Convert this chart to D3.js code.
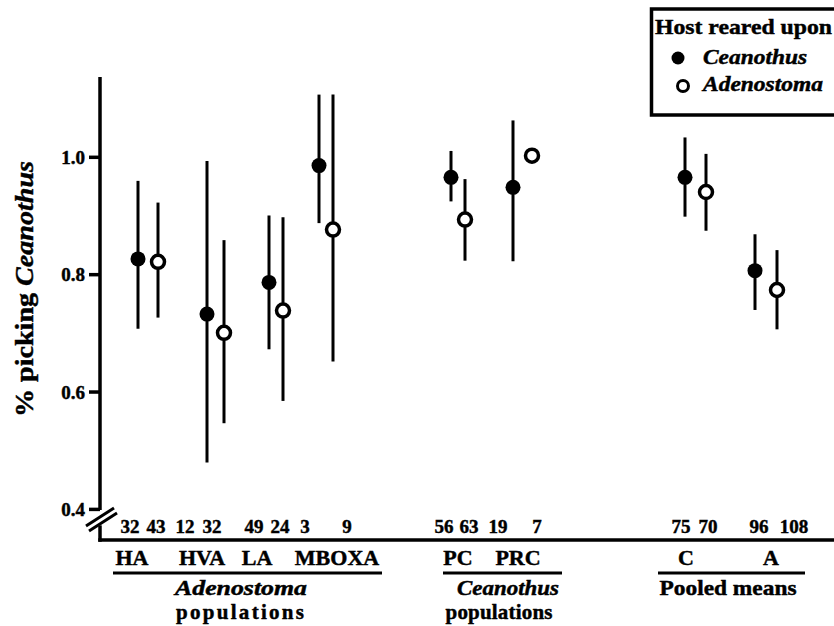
<!DOCTYPE html>
<html><head><meta charset="utf-8">
<script src="https://cdn.jsdelivr.net/npm/d3@7"></script>
<style>
html,body{margin:0;padding:0;background:#fff;}
text{font-family:"Liberation Serif","Times New Roman",serif;font-weight:bold;fill:#000;stroke:#000;stroke-width:0.45px;}
</style></head>
<body>
<svg id="chart" width="834" height="626"></svg>
<script>
// ---- data ----
const categories = ["HA","HVA","LA","MBOXA","PC","PRC","C","A"];
const groups = [
  {name:"Adenostoma", italic:true, line2:"populations", members:["HA","HVA","LA","MBOXA"]},
  {name:"Ceanothus", italic:true, line2:"populations", members:["PC","PRC"]},
  {name:"Pooled means", italic:false, line2:"", members:["C","A"]}
];
// reared on Ceanothus (filled)
const ceanothusMean = [0.826,0.732,0.786,0.985,0.965,0.948,0.965,0.806];
const ceanothusLow  = [0.707,0.479,0.672,0.887,0.924,0.822,0.898,0.739];
const ceanothusHigh = [0.959,0.993,0.900,1.106,1.010,1.062,1.033,0.868];
const ceanothusN    = [32,12,49,3,56,19,75,96];
// reared on Adenostoma (open)
const adenostomaMean = [0.821,0.700,0.738,0.876,0.893,1.002,0.940,0.773];
const adenostomaLow  = [0.726,0.546,0.584,0.651,0.823,null,0.874,0.706];
const adenostomaHigh = [0.922,0.858,0.897,1.106,0.962,null,1.005,0.841];
const adenostomaN    = [43,32,24,9,63,7,70,108];
const yTicks = [0.4,0.6,0.8,1.0];

// ---- layout ----
const svg = d3.select("#chart");
const y = d3.scaleLinear().domain([0.347,1.136]).range([540,77]);
const xFilled = d3.scaleOrdinal().domain(categories).range([138,207,269,319,451,513,685,755]);
const xOpen   = d3.scaleOrdinal().domain(categories).range([158,224,283,333,465,532,706,777]);
const xNA = d3.scaleOrdinal().domain(categories).range([130,185,254,305,444,498,681,759]);
const xNB = d3.scaleOrdinal().domain(categories).range([156,212,280,347,469,537,708,794]);
const xLab = d3.scaleOrdinal().domain(categories).range([132,202,257,337,458,518,686,771]);

const series = [
  {key:"Ceanothus", mean:ceanothusMean, low:ceanothusLow, high:ceanothusHigh, n:ceanothusN, x:xFilled, nx:xNA, filled:true},
  {key:"Adenostoma", mean:adenostomaMean, low:adenostomaLow, high:adenostomaHigh, n:adenostomaN, x:xOpen, nx:xNB, filled:false}
];

// axes
const yAxis = d3.axisLeft(y).tickValues(yTicks).tickFormat(d3.format(".1f")).tickSize(11).tickPadding(4);
const gy = svg.append("g").attr("transform","translate(100,0)").call(yAxis);
gy.select(".domain").remove();
gy.selectAll(".tick line").attr("stroke","#000").attr("stroke-width",3.5);
gy.selectAll(".tick text").style("font-size","19px").style("font-family","Liberation Serif").style("font-weight","bold").attr("dy","0.35em");

// y spine (with break)
svg.append("line").attr("x1",100).attr("x2",100).attr("y1",y(1.136)).attr("y2",y(0.398)).attr("stroke","#000").attr("stroke-width",3.5);
svg.append("line").attr("x1",100).attr("x2",100).attr("y1",y(0.372)).attr("y2",y(0.347)+1.75).attr("stroke","#000").attr("stroke-width",3.5);
// x axis line
svg.append("line").attr("x1",98.25).attr("x2",834).attr("y1",y(0.347)).attr("y2",y(0.347)).attr("stroke","#000").attr("stroke-width",3.5);
// break marks
[0,5].forEach(o=>{
  svg.append("line").attr("x1",86+o*0.6).attr("y1",526+o).attr("x2",114+o*0.6).attr("y2",508+o)
    .attr("stroke","#000").attr("stroke-width",3);
});

// y label
const yl = svg.append("text").attr("transform","translate(33,289) rotate(-90)")
  .attr("text-anchor","middle").style("font-size","26px").attr("textLength",256).attr("lengthAdjust","spacingAndGlyphs");
yl.append("tspan").text("% picking ");
yl.append("tspan").style("font-style","italic").text("Ceanothus");

// error bars and points
series.forEach(s=>{
  const g = svg.append("g");
  categories.forEach((c,i)=>{
    if(s.low[i]!=null){
      g.append("line").attr("x1",s.x(c)).attr("x2",s.x(c))
        .attr("y1",y(s.high[i])).attr("y2",y(s.low[i]))
        .attr("stroke","#000").attr("stroke-width",3);
    }
  });
  categories.forEach((c,i)=>{
    g.append("circle").attr("cx",s.x(c)).attr("cy",y(s.mean[i]))
      .attr("r", s.filled?7.5:6.5)
      .attr("fill", s.filled?"#000":"#fff")
      .attr("stroke","#000").attr("stroke-width", s.filled?0:3.5);
  });
  categories.forEach((c,i)=>{
    svg.append("text").attr("x",s.nx(c)).attr("y",533).attr("text-anchor","middle")
      .style("font-size","19px").text(s.n[i]);
  });
});

// category labels
categories.forEach(c=>{
  svg.append("text").attr("x",xLab(c)).attr("y",565).attr("text-anchor","middle")
    .style("font-size","22px").text(c);
});

// group underline + labels
const groupLine = [[113,382],[443,562],[658,805]];
const groupText = [[241,240],[508,499],[728,728]];
const groupW = [[132,128],[102,107],[137,0]];
groups.forEach((g,i)=>{
  svg.append("line").attr("x1",groupLine[i][0]).attr("x2",groupLine[i][1]).attr("y1",573).attr("y2",573)
    .attr("stroke","#000").attr("stroke-width",3);
  svg.append("text").attr("x",groupText[i][0]).attr("y",595).attr("text-anchor","middle")
    .style("font-size","21px").style("font-style",g.italic?"italic":"normal")
    .attr("textLength",groupW[i][0]).attr("lengthAdjust","spacingAndGlyphs").text(g.name);
  if(g.line2){
    svg.append("text").attr("x",groupText[i][1]).attr("y",619).attr("text-anchor","middle")
      .style("font-size","21px").attr("textLength",groupW[i][1]).attr("lengthAdjust","spacing").text(g.line2);
  }
});

// legend
svg.append("rect").attr("x",651.5).attr("y",9).attr("width",200).attr("height",106)
  .attr("fill","#fff").attr("stroke","#000").attr("stroke-width",3.5);
svg.append("text").attr("x",655).attr("y",34).style("font-size","21px")
  .attr("textLength",177).attr("lengthAdjust","spacingAndGlyphs").text("Host reared upon");
svg.append("circle").attr("cx",678).attr("cy",58).attr("r",6.5).attr("fill","#000");
svg.append("text").attr("x",703).attr("y",64).style("font-size","21px").style("font-style","italic")
  .attr("textLength",104).attr("lengthAdjust","spacingAndGlyphs").text("Ceanothus");
svg.append("circle").attr("cx",683).attr("cy",86).attr("r",5.5).attr("fill","#fff").attr("stroke","#000").attr("stroke-width",3);
svg.append("text").attr("x",703).attr("y",91).style("font-size","21px").style("font-style","italic")
  .attr("textLength",120).attr("lengthAdjust","spacingAndGlyphs").text("Adenostoma");
</script>
</body></html>
